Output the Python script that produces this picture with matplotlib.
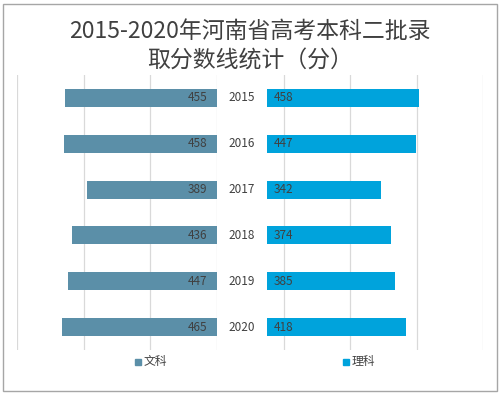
import numpy as np
import matplotlib
matplotlib.use("Agg")
import matplotlib.pyplot as plt
from matplotlib.patches import Rectangle
from matplotlib.transforms import blended_transform_factory

plt.rcParams['font.family'] = ['Noto Sans CJK SC', 'DejaVu Sans']

years = ["2015", "2016", "2017", "2018", "2019", "2020"]
wenke = [455, 458, 389, 436, 447, 465]
like = [458, 447, 342, 374, 385, 418]

COL_WEN = '#5B8FA8'
COL_LI = '#00A3DC'
TXT = '#404040'
GRID = '#D9D9D9'

W, H = 501, 395
fig = plt.figure(figsize=(W / 100, H / 100), dpi=100)


def px_axes(x0, x1, y0, y1):
    # pixel box (top-left origin) -> figure fraction axes
    return fig.add_axes([x0 / W, 1 - y1 / H, (x1 - x0) / W, (y1 - y0) / H])


ax_l = px_axes(17, 217, 75, 350)
ax_r = px_axes(267, 483, 75, 350)

y = np.arange(len(years))
bh = 0.39

ax_l.barh(y, wenke, height=bh, color=COL_WEN, zorder=2)
ax_r.barh(y, like, height=bh, color=COL_LI, zorder=2)

ax_l.set_xlim(600, 0)
ax_l.set_xticks([0, 200, 400, 600])
ax_r.set_xlim(0, 650)
ax_r.set_xticks([50, 250, 450, 650])

for ax in (ax_l, ax_r):
    ax.set_ylim(len(years) - 0.5, -0.5)
    ax.set_yticks([])
    ax.tick_params(axis='x', length=0, labelbottom=False)
    ax.grid(axis='x', color=GRID, linewidth=0.9, zorder=0)
    for s in ax.spines.values():
        s.set_visible(False)
    ax.patch.set_alpha(0)

for i, v in enumerate(wenke):
    ax_l.annotate(str(v), xy=(0, i), xytext=(-7, 0), textcoords='offset points',
                  ha='right', va='center', fontsize=8.5, color=TXT, zorder=3)
for i, v in enumerate(like):
    ax_r.annotate(str(v), xy=(0, i), xytext=(4.5, 0), textcoords='offset points',
                  ha='left', va='center', fontsize=8.5, color=TXT, zorder=3)

trans = blended_transform_factory(fig.transFigure, ax_l.transData)
for i, yr in enumerate(years):
    fig.text(242 / W, i, yr, transform=trans, ha='center', va='center',
             fontsize=8.5, color=TXT)

# title
fig.text(250 / W, 1 - 31 / H, "2015-2020年河南省高考本科二批录", ha='center', va='center',
         fontsize=16.5, color=TXT)
fig.text(250 / W, 1 - 61 / H, "取分数线统计（分）", ha='center', va='center',
         fontsize=16.5, color=TXT)

# legends
for x, lab, c in [(135, "文科", COL_WEN), (343, "理科", COL_LI)]:
    fig.patches.append(Rectangle((x / W, 1 - 365 / H), 6 / W, 6 / H,
                                 transform=fig.transFigure, color=c))
    fig.text((x + 9) / W, 1 - 362 / H, lab, ha='left', va='center',
             fontsize=8.5, color=TXT)

# outer border
fig.patches.append(Rectangle((2.5 / W, 1 - 391 / H), 494.5 / W, 387 / H,
                             transform=fig.transFigure, fill=False,
                             edgecolor='#A6A6A6', linewidth=1))

fig.savefig("out.png", dpi=100)
